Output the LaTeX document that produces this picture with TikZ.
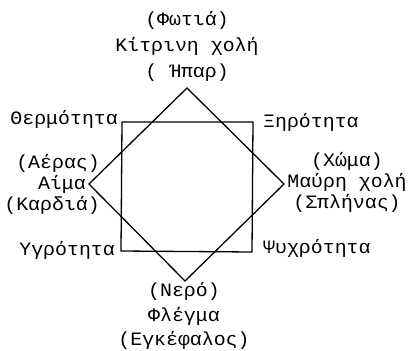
\documentclass[tikz,border=0pt]{standalone}
\usepackage{fontspec}
\setmainfont[FakeStretch=1.05]{Liberation Mono}
\begin{document}
\begin{tikzpicture}[x=1bp,y=-1bp,
  lbl/.style={inner sep=0pt,align=center,font=\fontsize{19}{21}\selectfont},
  edge/.style={line width=1.3bp,black}]
\useasboundingbox (0,0) rectangle (408,351);
% square corners
\coordinate (tl) at (122,122);
\coordinate (tr) at (253,122);
\coordinate (br) at (252,252);
\coordinate (bl) at (121,251);
% diamond vertices
\coordinate (dt) at (187,88);
\coordinate (dr) at (284,184);
\coordinate (db) at (185,281);
\coordinate (dl) at (89,184);
\draw[edge] (tl) -- (tr) -- (br) -- (bl) -- cycle;
\draw[edge] (dt) -- (dr) -- (db) -- (dl) -- cycle;
% labels
\node[lbl,font=\fontsize{19}{26.5}\selectfont] (top) at (187,46.5) {(Φωτιά)\\Κίτρινη χολή\\( Ήπαρ)};
\node[lbl,font=\fontsize{19}{24.5}\selectfont] (bottom) at (184,316) {(Νερό)\\Φλέγμα\\(Εγκέφαλος)};
\node[lbl,align=right,anchor=east] (left) at (100,184) {(Αέρας)\\Αίμα\rule{14bp}{0pt}\\(Καρδιά)};
\node[lbl] (right) at (347,182) {(Χώμα)\\Μαύρη χολή\\(Σπλήνας)};
\node[lbl,anchor=east] (therm) at (118,119) {Θερμότητα};
\node[lbl,anchor=west] (xir) at (263,122) {Ξηρότητα};
\node[lbl,anchor=east] (ygr) at (115,250) {Υγρότητα};
\node[lbl,anchor=west] (psy) at (263,248) {Ψυχρότητα};
\end{tikzpicture}
\end{document}
